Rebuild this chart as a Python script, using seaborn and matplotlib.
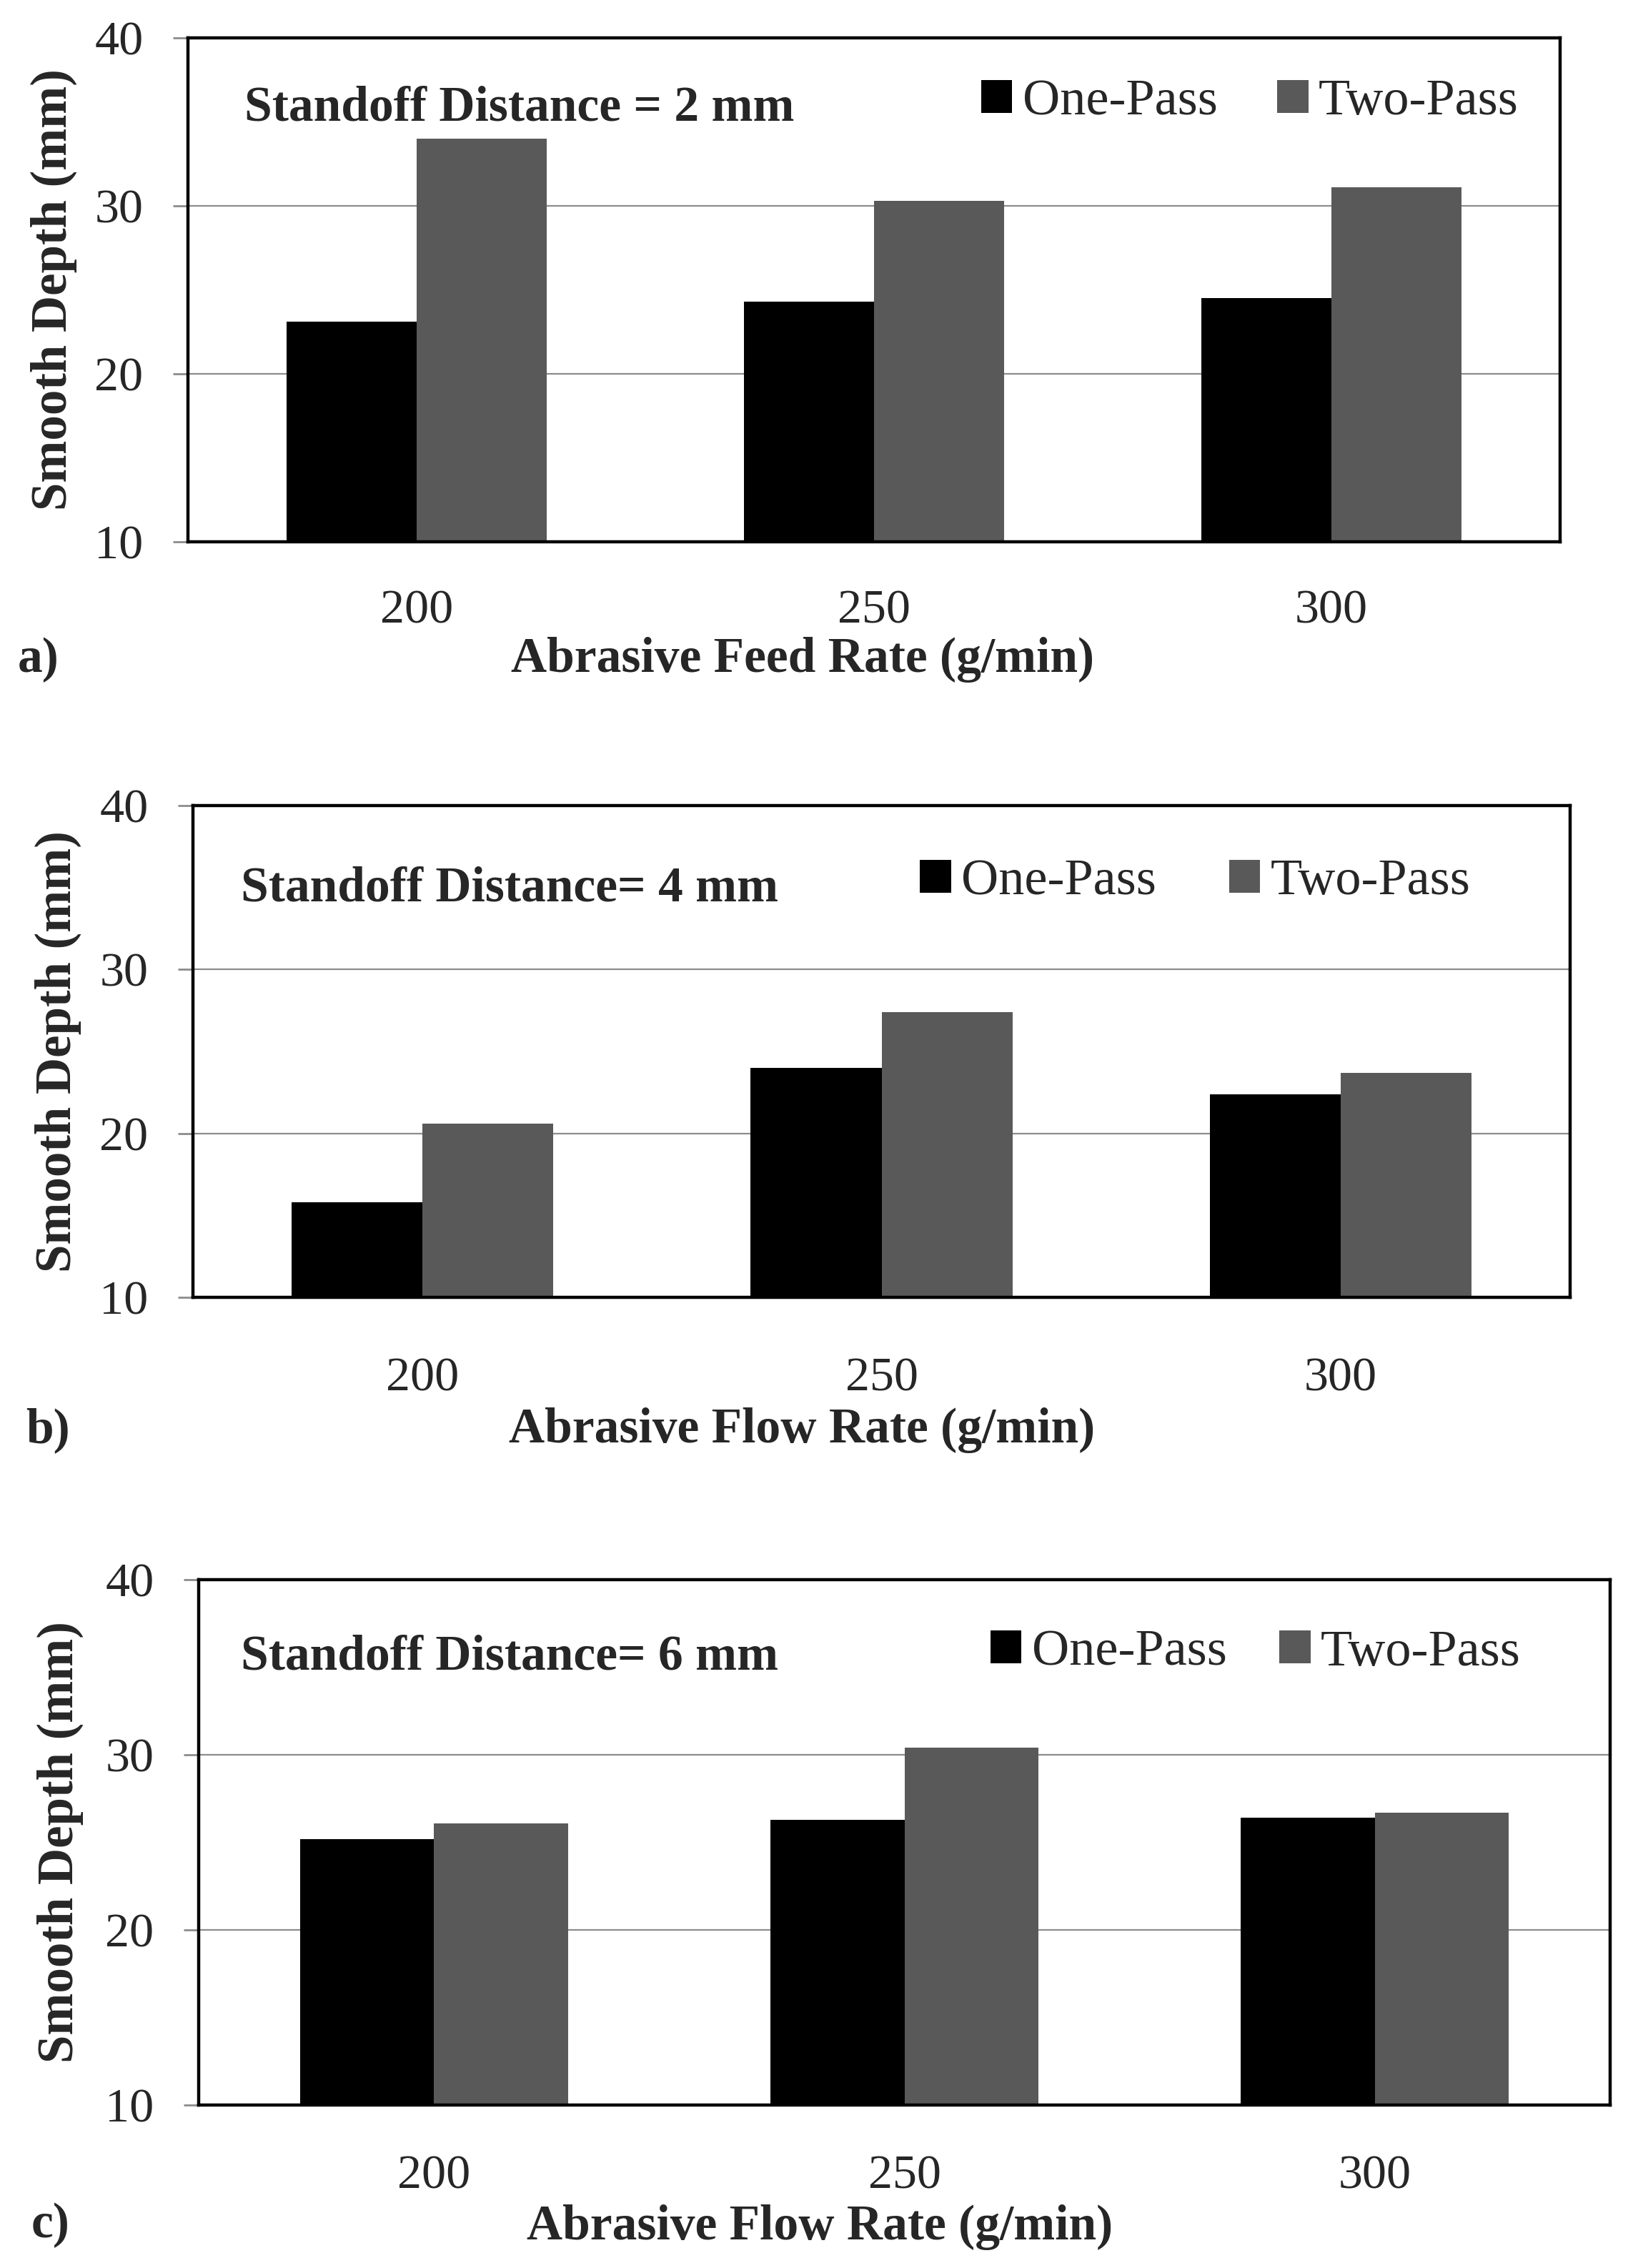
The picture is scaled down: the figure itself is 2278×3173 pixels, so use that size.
import matplotlib
matplotlib.use("Agg")
import matplotlib.pyplot as plt
import pandas as pd
import seaborn as sns

# data
rates = ["200", "250", "300"]
passes = ["One-Pass", "Two-Pass"]
one_pass_a = [23.1, 24.3, 24.5]
two_pass_a = [34.0, 30.3, 31.1]
one_pass_b = [15.8, 24.0, 22.4]
two_pass_b = [20.6, 27.4, 23.7]
one_pass_c = [25.2, 26.3, 26.4]
two_pass_c = [26.1, 30.4, 26.7]

titles = ["Standoff Distance = 2 mm", "Standoff Distance= 4 mm", "Standoff Distance= 6 mm"]
xlabels = ["Abrasive Feed Rate (g/min)", "Abrasive Flow Rate (g/min)", "Abrasive Flow Rate (g/min)"]
panel_tags = ["a)", "b)", "c)"]
ylabel = "Smooth Depth (mm)"

sns.set_style("white")
plt.rcParams["font.family"] = ["Liberation Serif", "DejaVu Serif"]

W, H = 2278, 3173
fig = plt.figure(figsize=(W / 100, H / 100), dpi=100)

# layout in pixels: left, right, top, bottom of each axes
boxes = [(263, 2183, 53, 758), (270, 2197, 1127, 1815), (278, 2253, 2210, 2945)]
title_pos = [(0.041, 0.860), (0.035, 0.830), (0.030, 0.853)]
legend_pos = [(0.578, 0.873), (0.528, 0.845), (0.561, 0.861)]
legend_gap = [1.16, 1.41, 1.02]
tick_pad = [48, 60, 50]
xlabel_pos = [(0.448, -0.234), (0.442, -0.270), (0.440, -0.232)]
tag_pos = [(25, 923), (36, 2001), (44, 3113)]

colors = {"One-Pass": "#000000", "Two-Pass": "#595959"}

series = [(one_pass_a, two_pass_a), (one_pass_b, two_pass_b), (one_pass_c, two_pass_c)]

for i, (one, two) in enumerate(series):
    l, r, t, b = boxes[i]
    ax = fig.add_axes([l / W, 1 - b / H, (r - l) / W, (b - t) / H])
    df = pd.DataFrame({
        "rate": rates * 2,
        "depth": one + two,
        "pass": [passes[0]] * 3 + [passes[1]] * 3,
    })
    sns.barplot(data=df, x="rate", y="depth", hue="pass", order=rates,
                hue_order=passes, palette=colors, width=0.57, saturation=1,
                linewidth=0, ax=ax)
    ax.set_xlim(-0.5, 2.5)
    ax.set_ylim(10, 40)
    ax.set_yticks([10, 20, 30, 40])
    ax.yaxis.grid(True, color="#8c8c8c", lw=1.6)
    ax.set_axisbelow(True)
    for s in ax.spines.values():
        s.set_visible(True)
        s.set_color("black")
        s.set_linewidth(3.2)
    ax.tick_params(axis="y", length=15, width=2, color="#8c8c8c", pad=30,
                   labelsize=49, left=True)
    ax.tick_params(axis="x", length=0, pad=tick_pad[i], labelsize=49)

    ax.set_ylabel(ylabel, fontsize=51, fontweight="bold", va="center")
    ax.yaxis.set_label_coords(-0.098, 0.5)
    ax.set_xlabel(xlabels[i], fontsize=50, fontweight="bold", va="center")
    ax.xaxis.set_label_coords(*xlabel_pos[i])

    ax.text(title_pos[i][0], title_pos[i][1], titles[i], transform=ax.transAxes,
            fontsize=50, fontweight="bold", va="center", ha="left")

    handles, labels = ax.get_legend_handles_labels()
    ax.legend(handles, labels, loc="center left", bbox_to_anchor=legend_pos[i],
              ncol=2, frameon=False, fontsize=52, handlelength=0.6,
              handleheight=0.6, handletextpad=0.2, columnspacing=legend_gap[i],
              borderaxespad=0, borderpad=0)

    fig.text(tag_pos[i][0] / W, 1 - tag_pos[i][1] / H, panel_tags[i],
             fontsize=50, fontweight="bold", va="center", ha="left")

fig.savefig("out.png", dpi=100, facecolor="white")
